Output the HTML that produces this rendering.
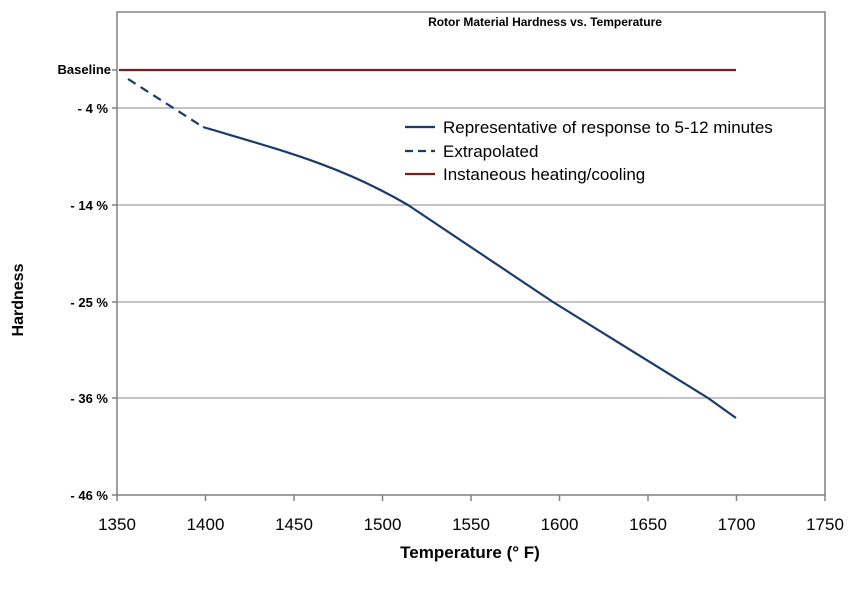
<!DOCTYPE html>
<html><head><style>body{margin:0;background:#fff}</style></head><body>
<svg width="864" height="591" xmlns="http://www.w3.org/2000/svg" font-family="Liberation Sans, sans-serif">
<rect width="864" height="591" fill="#fff"/>
<g stroke="#a0a0a0" stroke-width="1.3">
<line x1="117" y1="108" x2="825" y2="108"/>
<line x1="117" y1="205" x2="825" y2="205"/>
<line x1="117" y1="302" x2="825" y2="302"/>
<line x1="117" y1="398" x2="825" y2="398"/>
</g>
<g stroke="#808080" stroke-width="1.5" fill="none">
<rect x="117" y="12" width="708" height="483"/>
<line x1="112" y1="108" x2="117" y2="108"/><line x1="112" y1="205" x2="117" y2="205"/><line x1="112" y1="302" x2="117" y2="302"/><line x1="112" y1="398" x2="117" y2="398"/><line x1="112" y1="495" x2="117" y2="495"/><line x1="112" y1="70" x2="117" y2="70"/>
<line x1="117" y1="495" x2="117" y2="501"/><line x1="205.5" y1="495" x2="205.5" y2="501"/><line x1="294" y1="495" x2="294" y2="501"/><line x1="382.5" y1="495" x2="382.5" y2="501"/><line x1="471" y1="495" x2="471" y2="501"/><line x1="559.5" y1="495" x2="559.5" y2="501"/><line x1="648" y1="495" x2="648" y2="501"/><line x1="736.5" y1="495" x2="736.5" y2="501"/><line x1="825" y1="495" x2="825" y2="501"/>
</g>
<line x1="119" y1="70" x2="736" y2="70" stroke="#7a1c1c" stroke-width="2.2"/>
<path d="M128,79 L203,127" stroke="#1b3a6b" stroke-width="2.2" stroke-dasharray="9,6" fill="none"/>
<path d="M203,127 C280,150 340,165 408,205 L553,302 L708,398 L736,418" stroke="#1b3a6b" stroke-width="2.2" fill="none" stroke-linejoin="round"/>
<text x="545" y="26" font-size="12" font-weight="bold" text-anchor="middle">Rotor Material Hardness vs. Temperature</text>
<g font-size="13" font-weight="bold" text-anchor="end">
<text x="111" y="74">Baseline</text>
<text x="108" y="113">- 4 %</text>
<text x="108" y="210">- 14 %</text>
<text x="108" y="307">- 25 %</text>
<text x="108" y="403">- 36 %</text>
<text x="108" y="500">- 46 %</text>
</g>
<g font-size="17" text-anchor="middle">
<text x="117" y="530">1350</text><text x="205.5" y="530">1400</text><text x="294" y="530">1450</text><text x="382.5" y="530">1500</text><text x="471" y="530">1550</text><text x="559.5" y="530">1600</text><text x="648" y="530">1650</text><text x="736.5" y="530">1700</text><text x="825" y="530">1750</text>
</g>
<text x="470" y="558" font-size="17" font-weight="bold" text-anchor="middle">Temperature (° F)</text>
<text transform="translate(23,300) rotate(-90)" font-size="16" font-weight="bold" text-anchor="middle">Hardness</text>
<line x1="405" y1="127" x2="435" y2="127" stroke="#1b3a6b" stroke-width="2.2"/>
<line x1="405" y1="151" x2="435" y2="151" stroke="#1b3a6b" stroke-width="2.2" stroke-dasharray="8,5"/>
<line x1="405" y1="174" x2="435" y2="174" stroke="#7a1c1c" stroke-width="2.2"/>
<g font-size="17">
<text x="443" y="133">Representative of response to 5-12 minutes</text>
<text x="443" y="157">Extrapolated</text>
<text x="443" y="180">Instaneous heating/cooling</text>
</g>
</svg>
</body></html>
